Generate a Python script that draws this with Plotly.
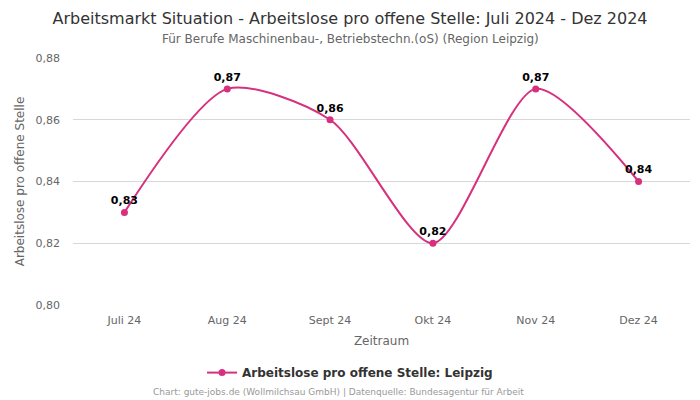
import plotly.graph_objects as go

categories = ["Juli 24", "Aug 24", "Sept 24", "Okt 24", "Nov 24", "Dez 24"]
values = [0.83, 0.87, 0.86, 0.82, 0.87, 0.84]
labels = ["0,83", "0,87", "0,86", "0,82", "0,87", "0,84"]
y_ticks = [0.80, 0.82, 0.84, 0.86, 0.88]

color = "#d6307e"
font = "DejaVu Sans"

fig = go.Figure()
fig.add_trace(go.Scatter(
    x=list(range(len(categories))), y=values,
    mode="lines+markers+text",
    line=dict(color=color, width=2, shape="spline", smoothing=0.75),
    marker=dict(color=color, size=7),
    text=labels, textposition="top center",
    textfont=dict(family=font, size=11, color="#000000", weight="bold"),
    name="Arbeitslose pro offene Stelle: Leipzig",
    cliponaxis=False,
))

fig.update_layout(
    width=700, height=400,
    margin=dict(l=73, r=10, t=58, b=95),
    paper_bgcolor="white", plot_bgcolor="white",
    separators=",.",
    font=dict(family=font, color="#666666"),
    title=dict(
        text="Arbeitsmarkt Situation - Arbeitslose pro offene Stelle: Juli 2024 - Dez 2024",
        x=0.5, xanchor="center", y=0.967, yanchor="top",
        font=dict(family=font, size=16, color="#333333"),
    ),
    showlegend=True,
    legend=dict(orientation="h", x=0.449, xanchor="center", y=-0.215, yanchor="top",
                font=dict(family=font, size=12, color="#333333", weight="bold")),
    annotations=[
        dict(text="Für Berufe Maschinenbau-, Betriebstechn.(oS) (Region Leipzig)",
             xref="paper", yref="paper", x=0.449, y=1.0, yshift=19, showarrow=False,
             xanchor="center", yanchor="middle",
             font=dict(family=font, size=12, color="#666666")),
        dict(text="Chart: gute-jobs.de (Wollmilchsau GmbH) | Datenquelle: Bundesagentur für Arbeit",
             xref="paper", yref="paper", x=0.431, y=-0.353, showarrow=False,
             xanchor="center", yanchor="middle",
             font=dict(family=font, size=9, color="#999999")),
    ],
)
fig.update_xaxes(
    tickmode="array", tickvals=list(range(len(categories))), ticktext=categories,
    range=[-0.5, len(categories) - 0.5], showgrid=False, zeroline=False,
    showline=False, ticks="", ticklabelstandoff=7,
    tickfont=dict(family=font, size=11, color="#666666"),
    title=dict(text="Zeitraum", font=dict(family=font, size=12, color="#666666"), standoff=10),
)
fig.update_yaxes(
    range=[0.80, 0.88], tickvals=y_ticks, tickformat=".2f",
    showgrid=True, gridcolor="#d8d8d8", zeroline=False, showline=False,
    ticklabelstandoff=12,
    tickfont=dict(family=font, size=11, color="#666666"),
    title=dict(text="Arbeitslose pro offene Stelle", font=dict(family=font, size=12, color="#666666"), standoff=8),
)

fig.write_html("out.html", config={"displayModeBar": False},
               post_script="document.body.style.margin='0';")
